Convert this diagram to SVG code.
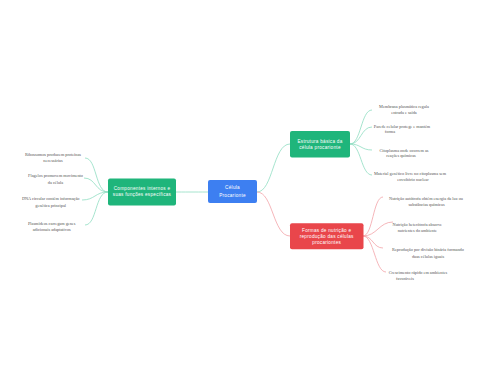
<svg xmlns="http://www.w3.org/2000/svg" width="480" height="384" viewBox="0 0 480 384">
<style>
.hub{font-family:"Liberation Sans","DejaVu Sans",sans-serif;font-size:4.7px;fill:#ffffff;text-anchor:middle;letter-spacing:0.25px}
.leaf{font-family:"Liberation Serif","DejaVu Serif",serif;font-size:4.3px;fill:#555555;text-anchor:middle}
.cg{fill:none;stroke:#8FDDC1;stroke-width:0.8}
.cr{fill:none;stroke:#F3A3A8;stroke-width:0.8}
</style>
<rect width="480" height="384" fill="#ffffff"/>
<g id="connectors">
<path class="cg" d="M176,192 C192,192 192,192 208,192"/>
<path class="cg" d="M257,192 C273,192 273,144 290,144"/>
<path class="cr" d="M257,192 C273,192 273,236 290,236"/>
<path class="cg" d="M108,192 C95,192 97,158 85,158"/>
<path class="cg" d="M108,192 C95,192 96,178 84,178"/>
<path class="cg" d="M108,192 C95,192 95,200 82,200"/>
<path class="cg" d="M108,192 C95,192 97,225 85,225"/>
<path class="cg" d="M350,144 C361,144 361,110 372,110"/>
<path class="cg" d="M350,144 C361,144 361,127 372,127"/>
<path class="cg" d="M350,144 C361,144 361,150 372,150"/>
<path class="cg" d="M350,144 C361,144 361,175 372,175"/>
<path class="cr" d="M363,236 C373,236 373,197 383,197"/>
<path class="cr" d="M363,236 C377,236 379,222 393,222"/>
<path class="cr" d="M363,236 C373,236 373,248 383,248"/>
<path class="cr" d="M363,236 C374,236 375,272 386,272"/>
</g>
<g id="center">
<rect x="208" y="180" width="49" height="23" rx="2" fill="#3D7FF1"/>
<text class="hub" x="232.5" y="189.2">Célula</text>
<text class="hub" x="232.5" y="196.8">Procarionte</text>
</g>
<g id="hub-left">
<rect x="108" y="178.5" width="68" height="27" rx="2" fill="#1FB57B"/>
<text class="hub" x="142" y="190.4">Componentes internos e</text>
<text class="hub" x="142" y="196.4">suas funções específicas</text>
</g>
<g id="hub-top">
<rect x="290" y="131" width="60" height="26.5" rx="2" fill="#1FB57B"/>
<text class="hub" x="320" y="143">Estrutura básica da</text>
<text class="hub" x="320" y="149">célula procarionte</text>
</g>
<g id="hub-bottom">
<rect x="290" y="223.3" width="73.5" height="26" rx="2" fill="#E9464B"/>
<text class="hub" x="326.7" y="232">Formas de nutrição e</text>
<text class="hub" x="326.7" y="238">reprodução das células</text>
<text class="hub" x="326.7" y="243.8">procariontes</text>
</g>
<g id="leaf-l1">
<text class="leaf" x="53" y="155.8">Ribossomos produzem proteínas</text>
<text class="leaf" x="53" y="161.6">necessárias</text>
</g>
<g id="leaf-l2">
<text class="leaf" x="55.5" y="177.2">Flagelos promovem movimento</text>
<text class="leaf" x="55.5" y="183.8">da célula</text>
</g>
<g id="leaf-l3">
<text class="leaf" x="50.7" y="200.2">DNA circular contém informação</text>
<text class="leaf" x="50.7" y="206.5">genética principal</text>
</g>
<g id="leaf-l4">
<text class="leaf" x="51.7" y="224.5">Plasmídeos carregam genes</text>
<text class="leaf" x="51.7" y="230.8">adicionais adaptativos</text>
</g>
<g id="leaf-t1">
<text class="leaf" x="404" y="108.2">Membrana plasmática regula</text>
<text class="leaf" x="404" y="114.2">entrada e saída</text>
</g>
<g id="leaf-t2">
<text class="leaf" x="402" y="127.5">Parede celular protege e mantém</text>
<text class="leaf" x="390" y="132.8">forma</text>
</g>
<g id="leaf-t3">
<text class="leaf" x="404" y="151.8">Citoplasma onde ocorrem as</text>
<text class="leaf" x="401" y="156.5">reações químicas</text>
</g>
<g id="leaf-t4">
<text class="leaf" x="410" y="174.8">Material genético livre no citoplasma sem</text>
<text class="leaf" x="413" y="180.5">envoltório nuclear</text>
</g>
<g id="leaf-b1">
<text class="leaf" x="426" y="199.5">Nutrição autótrofa obtém energia da luz ou</text>
<text class="leaf" x="426.5" y="205.8">substâncias químicas</text>
</g>
<g id="leaf-b2">
<text class="leaf" x="417.3" y="225.8">Nutrição heterótrofa absorve</text>
<text class="leaf" x="417.3" y="231.5">nutrientes do ambiente</text>
</g>
<g id="leaf-b3">
<text class="leaf" x="428" y="251.2">Reprodução por divisão binária formando</text>
<text class="leaf" x="428" y="257.8">duas células iguais</text>
</g>
<g id="leaf-b4">
<text class="leaf" x="418" y="273.5">Crescimento rápido em ambientes</text>
<text class="leaf" x="405" y="279.5">favoráveis</text>
</g>
</svg>
